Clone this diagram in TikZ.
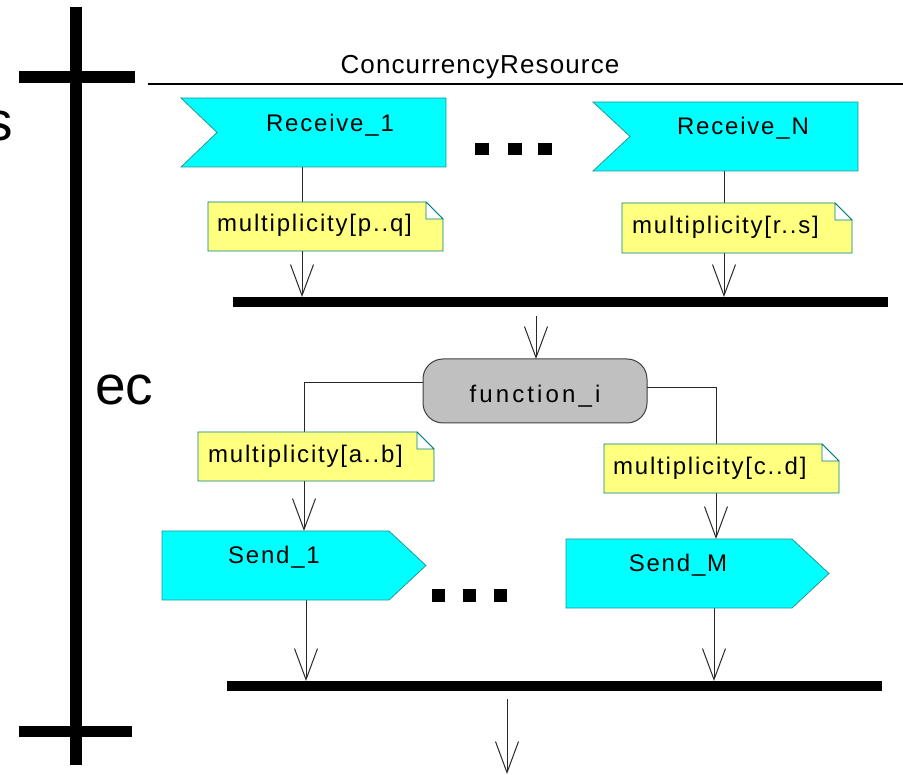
\documentclass[tikz,border=0pt]{standalone}
\usepackage{fontspec}
\setmainfont{Liberation Sans}
\newfontfamily\lblfont[LetterSpace=7.5]{Liberation Sans}
\newfontfamily\notefont[LetterSpace=7.5]{Liberation Sans}
\newfontfamily\fnfont[LetterSpace=13]{Liberation Sans}
\newfontfamily\titlefont[LetterSpace=4.3]{Liberation Sans}
\usetikzlibrary{arrows.meta}

\definecolor{sigfill}{RGB}{0,255,255}
\definecolor{sigline}{RGB}{40,150,150}
\definecolor{notefill}{RGB}{255,255,128}
\definecolor{noteline}{RGB}{0,128,128}
\definecolor{actfill}{RGB}{192,192,192}
\definecolor{conn}{RGB}{40,40,40}

% note with a folded top-right corner: left, top, right, bottom
\newcommand\drawnote[4]{%
  \path[notebody] (#1,#2) -- ({#3-17},#2) -- (#3,{#2+17}) -- (#3,#4) -- (#1,#4) -- cycle;
  \path[notefold] ({#3-17},#2) -- ({#3-17},{#2+17}) -- (#3,{#2+17}) -- cycle;
}

\begin{document}
\begin{tikzpicture}[x=1pt,y=-1pt,
  signal/.style={fill=sigfill, draw=sigline, line width=0.8pt},
  notebody/.style={fill=notefill, draw=noteline, line width=0.8pt},
  notefold/.style={fill=white, draw=noteline, line width=0.8pt, line join=round},
  conline/.style={draw=conn, line width=1pt},
  flow/.style={conline, -{Straight Barb[length=31pt,width=23pt,line width=1pt]}},
  bar/.style={fill=black, inner sep=0pt, outer sep=0pt, minimum height=10pt},
  actbox/.style={fill=actfill, draw=black!75, line width=1pt, rounded corners=20pt,
    inner sep=0pt, outer sep=0pt},
  lbl/.style={inner sep=0pt, font=\lblfont\fontsize{24}{28}\selectfont},
  notelbl/.style={inner sep=0pt, anchor=base west, font=\notefont\fontsize{24}{28}\selectfont},
  fnlbl/.style={inner sep=0pt, anchor=base, font=\fnfont\fontsize{24}{28}\selectfont},
  biglbl/.style={inner sep=0pt, font=\fontsize{55}{60}\selectfont},
  dot/.style={fill=black}
]
\useasboundingbox (0,0) rectangle (903,775);
\clip (0,0) rectangle (903,775);

% lifeline cross on the left
\fill (69.5,7) rectangle (81.5,765);
\fill (19,71) rectangle (135,83);
\fill (19,726) rectangle (132,737);
\node[biglbl, anchor=base east] (sfrag) at (13,141) {s};
\node[biglbl, anchor=base west] (ec) at (95,405) {ec};

% partition header
\draw[black, line width=1.2pt] (148,84) -- (903,84);
\node[inner sep=0pt, anchor=base, font=\titlefont\fontsize{26}{30}\selectfont] (title) at (480,74) {ConcurrencyResource};

% anchor points of the signal shapes
\coordinate (rcv1out) at (302,167);
\coordinate (rcvNout) at (724,171);
\coordinate (snd1in) at (304,531);
\coordinate (snd1out) at (306,600);
\coordinate (sndMin) at (716,539);
\coordinate (sndMout) at (714,608);
\coordinate (fnL) at (423,383);
\coordinate (fnR) at (647,388);
\coordinate (joinIn) at (536,316);
\coordinate (mergeIn) at (507,699);
\coordinate (mergeEnd) at (507,774);

% synchronisation bars
\node[bar, minimum width=655pt] (join) at (560.5,302) {};
\node[bar, minimum width=655pt] (merge) at (554.5,686) {};

% activity
\node[actbox, minimum width=224pt, minimum height=64pt] (fn) at (535,391) {};
\node[fnlbl] (fntext) at (535,403) {function\_i};

% connectors (drawn before the notes, which sit on top of them)
\draw[flow] (rcv1out) -- (rcv1out |- join.north);
\draw[flow] (rcvNout) -- (rcvNout |- join.north);
\draw[flow] (joinIn) -- (joinIn |- fn.north);
\draw[flow] (fnL) -| (snd1in);
\draw[flow] (fnR) -| (sndMin);
\draw[flow] (snd1out) -- (snd1out |- merge.north);
\draw[flow] (sndMout) -- (sndMout |- merge.north);
\draw[flow] (mergeIn) -- (mergeEnd);

% receive signals
\path[signal] (181,98) -- (446,98) -- (446,167) -- (181,167) -- (217,132.5) -- cycle;
\node[lbl, anchor=base] (rcv1) at (330,132) {Receive\_1};
\path[signal] (593,102) -- (858,102) -- (858,171) -- (593,171) -- (630,136.5) -- cycle;
\node[lbl, anchor=base] (rcvN) at (743,135) {Receive\_N};

% send signals
\path[signal] (162,531) -- (389,531) -- (426,565.5) -- (389,600) -- (162,600) -- cycle;
\node[lbl, anchor=base] (snd1) at (274,563) {Send\_1};
\path[signal] (566,539) -- (792,539) -- (829,573.5) -- (792,608) -- (566,608) -- cycle;
\node[lbl, anchor=base] (sndM) at (678,572) {Send\_M};

% multiplicity notes
\drawnote{208}{202}{443}{251}
\node[notelbl] (npq) at (217,232) {multiplicity[p..q]};
\drawnote{622}{203}{852}{253}
\node[notelbl] (nrs) at (632,234) {multiplicity[r..s]};
\drawnote{198}{432}{434}{481}
\node[notelbl] (nab) at (208,463) {multiplicity[a..b]};
\drawnote{604}{444}{839}{493}
\node[notelbl] (ncd) at (613,475) {multiplicity[c..d]};

% ellipsis marks
\foreach \cx in {482,515,545} \fill[dot] (\cx-7,143) rectangle (\cx+7,155);
\foreach \cx in {438.5,469,500.5} \fill[dot] (\cx-6.5,589) rectangle (\cx+6.5,602);
\end{tikzpicture}
\end{document}
